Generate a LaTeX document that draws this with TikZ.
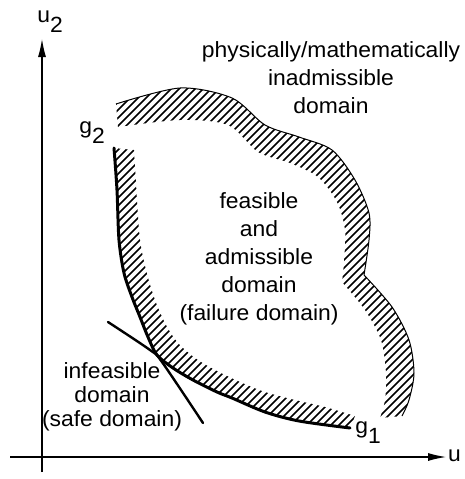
\documentclass[tikz,border=0pt]{standalone}
\usepackage{fontspec}
\setmainfont{Liberation Sans}[FakeStretch=1.04]
\usetikzlibrary{arrows.meta}
\tikzset{
  axis/.style={line width=1.1pt, -{Latex[length=18pt,width=8pt]}},
  hatchline/.style={line width=1.5pt},
  outline/.style={line width=1pt},
  limitcurve/.style={line width=3pt, line cap=round},
  tangentcurve/.style={line width=2.4pt, line cap=round},
  lbl/.style={font=\fontsize{22}{28}\selectfont, align=center, inner sep=0pt},
  lblsmall/.style={font=\fontsize{22}{24}\selectfont, align=center, inner sep=0pt}
}
\begin{document}
\begin{tikzpicture}[x=1pt,y=-1pt]
\useasboundingbox (0,0) rectangle (464,479);
\fill[white] (0,0) rectangle (464,479);
% axes
\coordinate (o1) at (10,457);
\coordinate (xend) at (446,457);
\coordinate (o2) at (42,472);
\coordinate (yend) at (42,39);
\draw[axis] (o1) -- (xend);
\draw[axis] (o2) -- (yend);
\node[lbl, anchor=west] (ulab) at (448,456) {u};
\node[lbl] (u2lab) at (50,22) {u\raisebox{-0.45em}{2}};

% hatched band along outer boundary
\begin{scope}
\clip plot[smooth] coordinates {(116,104) (180,88) (232,98) (265,125) (299,137) (332,150) (355,180) (369,213) (369,240) (364,275)}
  -- plot[smooth] coordinates {(364,275) (392,307) (409,340) (414,373) (409,400) (402,416)}
  -- plot[smooth] coordinates {(380,418) (385,400) (386,373) (381,340) (365,310) (342,282)}
  -- plot[smooth] coordinates {(342,282) (344,262) (345,230) (337,202) (318,177) (290,163) (258,152) (228,125) (180,120) (118,127)}
  -- cycle;
\foreach \i in {-520,-512,...,520} \draw[hatchline] (\i,500) -- ++(500,-500);
\end{scope}
\draw[outline] plot[smooth] coordinates {(116,104) (180,88) (232,98) (265,125) (299,137) (332,150) (355,180) (369,213) (369,240) (364,275)};
\draw[outline] plot[smooth] coordinates {(364,275) (392,307) (409,340) (414,373) (409,400) (402,416)};

% hatched band along limit-state curve g
\begin{scope}
\clip plot[smooth] coordinates {(114,148) (117,190) (119,240) (124,273) (132,297) (140,317) (148,337) (157,355) (173,368) (193,380) (217,392) (232,398) (265,412) (299,421) (350,428)}
  -- plot[smooth] coordinates {(355,416) (325,407) (295,400) (265,392) (240,382) (215,370) (195,358) (178,343) (166,325) (155,300) (146,270) (140,240) (137,200) (134,150)}
  -- cycle;
\foreach \i in {-520,-512,...,520} \draw[hatchline] (\i,500) -- ++(500,-500);
\end{scope}
\draw[limitcurve] plot[smooth] coordinates {(114,148) (117,190) (119,240) (124,273) (132,297) (140,317) (148,337) (157,355) (173,368) (193,380) (217,392) (232,398) (265,412) (299,421) (350,428)};

% second limit curve
\draw[tangentcurve] plot[smooth, tension=0.5] coordinates {(108,322) (150,350) (162,362) (203,423)};

% labels
\node[lbl] (g2lab) at (92,133) {g\raisebox{-0.45em}{2}};
\node[lbl] (g1lab) at (368,433) {g\raisebox{-0.45em}{1}};
\node[lbl] (inadm) at (331,78) {physically/mathematically\\inadmissible\\domain};
\node[lbl] (feas) at (259,259) {feasible\\and\\admissible\\domain\\(failure domain)};
\node[lblsmall] (infeas) at (112,397) {infeasible\\domain\\(safe domain)};
\end{tikzpicture}
\end{document}
